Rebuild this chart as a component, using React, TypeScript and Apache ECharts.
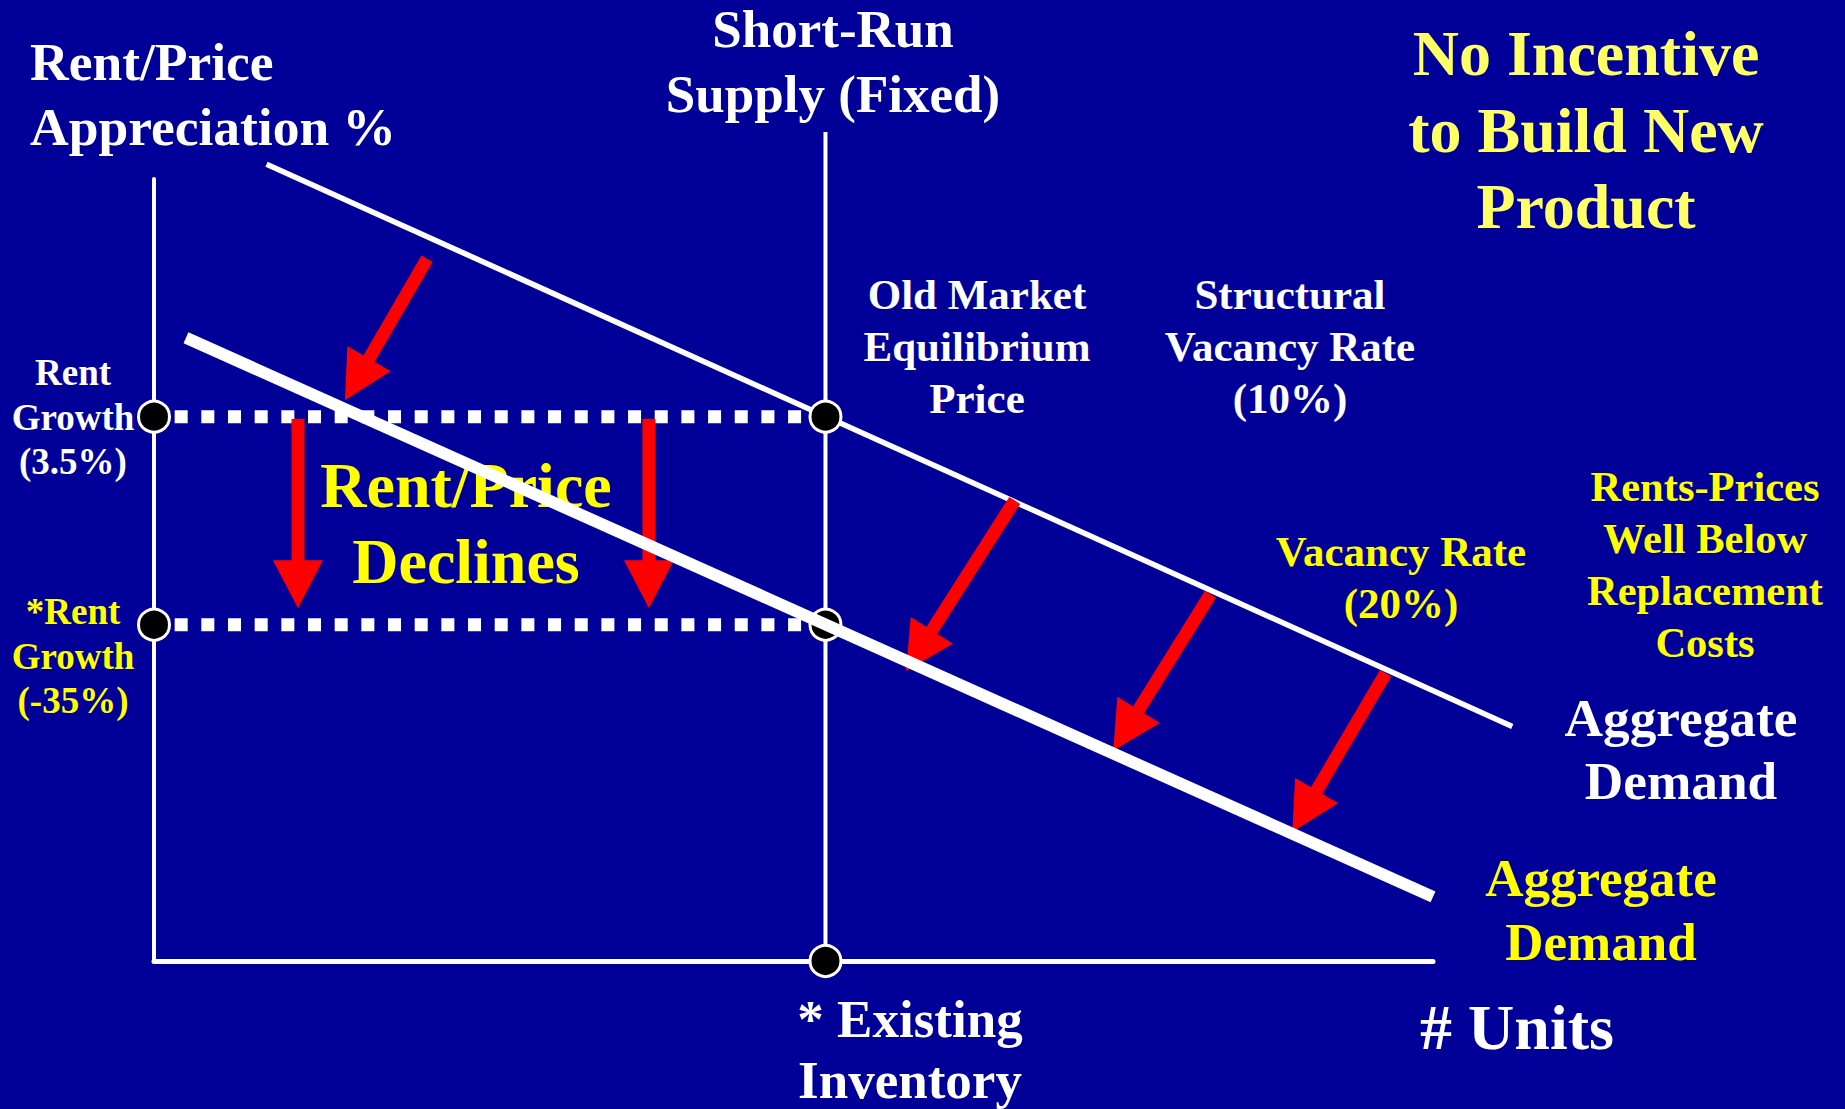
import React, { useEffect, useRef } from "react";
import * as echarts from "echarts";

// ---- data (abstract units: x = # units, y = rent/price appreciation) ----
const xRange = [0, 100];
const yRange = [0, 100];

const supplyLine = [[52.5, 0], [52.5, 106]];
const oldDemand = [[8.8, 101.9], [106.2, 30.0]];
const newDemand = [[2.5, 79.7], [100, 8.2]];
const oldPriceLevel = [[0, 69.6], [52.5, 69.6]];
const newPriceLevel = [[0, 43.0], [52.5, 43.0]];
const keyPoints = [[0, 69.6], [52.5, 69.6], [0, 43.0], [52.5, 43.0], [52.5, 0]];
// [tailX, tailY, tipX, tipY]
const shiftArrows = [
  [21.35, 89.8, 14.93, 71.7],
  [11.26, 69.3, 11.26, 45.1],
  [38.7, 69.3, 38.7, 45.1],
  [67.3, 58.9, 58.8, 37.1],
  [82.6, 46.9, 75.0, 26.9],
  [96.3, 36.8, 89.0, 16.5],
];

// ---- texts ----
const yAxisTitle = "Rent/Price\nAppreciation %";
const xAxisTitle = "# Units";
const supplyTitle = "Short-Run\nSupply (Fixed)";
const headline = "No Incentive\nto Build New\nProduct";
const oldEqLabel = "Old Market\nEquilibrium\nPrice";
const structVacLabel = "Structural\nVacancy Rate\n(10%)";
const declineLabel = "Rent/Price\nDeclines";
const vacLabel = "Vacancy Rate\n(20%)";
const belowCostLabel = "Rents-Prices\nWell Below\nReplacement\nCosts";
const oldDemandLabel = "Aggregate\nDemand";
const newDemandLabel = "Aggregate\nDemand";
const inventoryLabel = "* Existing\nInventory";
const oldGrowthLabel = "Rent\nGrowth\n(3.5%)";
const newGrowthLabel = "*Rent\nGrowth\n(-35%)";

const FONT = "'Liberation Serif', 'Times New Roman', serif";
const WHITE = "#FFFFFF";
const YELLOW = "#FFFF00";
const PALE_YELLOW = "#FFFF66";
const RED = "#FF0000";
const BG = "#000099";

function txt(text: string, x: number, y: number, size: number, lh: number, color: string, align = "center") {
  return {
    type: "text",
    x,
    y,
    z: 1,
    style: {
      text,
      fill: color,
      fontFamily: FONT,
      fontWeight: "bold",
      fontSize: size,
      lineHeight: lh,
      align,
      verticalAlign: "middle",
    },
  };
}

export default function App() {
  const ref = useRef<HTMLDivElement>(null);
  useEffect(() => {
    if (!ref.current) return;
    const chart = echarts.init(ref.current, null, { renderer: "svg" });
    const option: any = {
      animation: false,
      backgroundColor: BG,
      grid: { left: 154, right: 412, top: 179, bottom: 148, containLabel: false },
      xAxis: {
        type: "value",
        min: xRange[0],
        max: xRange[1],
        axisLine: { show: true, onZero: false, lineStyle: { color: WHITE, width: 5 } },
        axisTick: { show: false },
        axisLabel: { show: false },
        splitLine: { show: false },
      },
      yAxis: {
        type: "value",
        min: yRange[0],
        max: yRange[1],
        axisLine: { show: true, onZero: false, lineStyle: { color: WHITE, width: 4 } },
        axisTick: { show: false },
        axisLabel: { show: false },
        splitLine: { show: false },
      },
      graphic: [
        txt(yAxisTitle, 30, 94, 53.5, 65, WHITE, "left"),
        txt(supplyTitle, 833, 61, 53, 65, WHITE),
        txt(headline, 1586, 130, 64, 76.5, PALE_YELLOW),
        txt(oldEqLabel, 977, 346, 43, 52, WHITE),
        txt(structVacLabel, 1290, 346, 43, 52, WHITE),
        txt(declineLabel, 466, 523, 64, 76, YELLOW),
        txt(vacLabel, 1401, 577, 43, 52, YELLOW),
        txt(belowCostLabel, 1705, 564, 42.5, 52, YELLOW),
        txt(oldDemandLabel, 1681, 750, 53.3, 63.5, WHITE),
        txt(newDemandLabel, 1601, 910, 53, 63.5, YELLOW),
        txt(xAxisTitle, 1517, 1027, 64, 70, WHITE),
        txt(inventoryLabel, 910, 1049, 53, 61, WHITE),
        txt(oldGrowthLabel, 73, 417, 37, 44.5, WHITE),
        txt(newGrowthLabel, 73, 656, 37, 44.5, YELLOW),
      ],
      series: [
        {
          name: "Short-Run Supply",
          type: "line",
          data: supplyLine,
          symbol: "none",
          clip: false,
          z: 2,
          lineStyle: { color: WHITE, width: 4 },
        },
        {
          name: "Old rent growth",
          type: "line",
          data: oldPriceLevel,
          symbol: "none",
          clip: false,
          z: 3,
          lineStyle: { color: WHITE, width: 13, type: [13, 13.67], dashOffset: 5.67, cap: "butt" },
        },
        {
          name: "New rent growth",
          type: "line",
          data: newPriceLevel,
          symbol: "none",
          clip: false,
          z: 3,
          lineStyle: { color: WHITE, width: 13, type: [13, 13.67], dashOffset: 5.67, cap: "butt" },
        },
        {
          name: "Old Aggregate Demand",
          type: "custom",
          data: [[oldDemand[0][0], oldDemand[0][1], oldDemand[1][0], oldDemand[1][1]]],
          clip: false,
          z: 3,
          encode: { x: [0, 2], y: [1, 3] },
          renderItem: (params: any, api: any) => {
            const p1 = api.coord([api.value(0), api.value(1)]);
            const p2 = api.coord([api.value(2), api.value(3)]);
            return {
              type: "line",
              shape: { x1: p1[0], y1: p1[1], x2: p2[0], y2: p2[1] },
              style: { stroke: WHITE, lineWidth: 5.5 },
            };
          },
        },
        {
          name: "Key points",
          type: "scatter",
          data: keyPoints,
          symbol: "circle",
          symbolSize: 31,
          clip: false,
          z: 4,
          itemStyle: { color: "#000000", borderColor: WHITE, borderWidth: 3, opacity: 1 },
        },
        {
          name: "Shifts",
          type: "custom",
          data: shiftArrows,
          clip: false,
          z: 5,
          encode: { x: [0, 2], y: [1, 3] },
          renderItem: (params: any, api: any) => {
            const p1 = api.coord([api.value(0), api.value(1)]);
            const p2 = api.coord([api.value(2), api.value(3)]);
            const dx = p2[0] - p1[0];
            const dy = p2[1] - p1[1];
            const len = Math.hypot(dx, dy);
            const ux = dx / len;
            const uy = dy / len;
            const nx = -uy;
            const ny = ux;
            const sw = 6.5;
            const hw = 25;
            const hl = 48;
            const bx = p2[0] - ux * hl;
            const by = p2[1] - uy * hl;
            const pts = [
              [p1[0] + nx * sw, p1[1] + ny * sw],
              [bx + nx * sw, by + ny * sw],
              [bx + nx * hw, by + ny * hw],
              [p2[0], p2[1]],
              [bx - nx * hw, by - ny * hw],
              [bx - nx * sw, by - ny * sw],
              [p1[0] - nx * sw, p1[1] - ny * sw],
            ];
            return { type: "polygon", shape: { points: pts }, style: { fill: RED } };
          },
        },
        {
          name: "New Aggregate Demand",
          type: "line",
          data: newDemand,
          symbol: "none",
          clip: false,
          z: 6,
          lineStyle: { color: WHITE, width: 12 },
        },
      ],
    };
    chart.setOption(option);
    return () => chart.dispose();
  }, []);
  return (
    <div
      ref={ref}
      style={{ position: "fixed", left: 0, top: 0, width: 1845, height: 1109 }}
    />
  );
}
